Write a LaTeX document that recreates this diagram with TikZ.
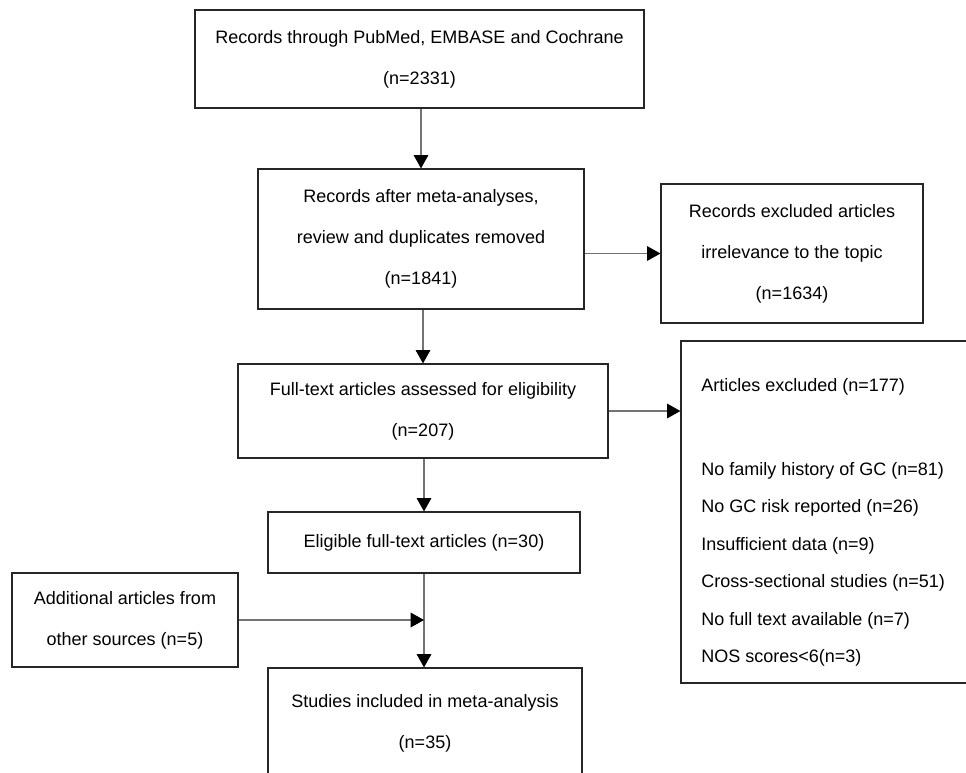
\documentclass[tikz,border=0pt]{standalone}
\usepackage{fontspec}
\setmainfont{Liberation Sans}
\usetikzlibrary{arrows.meta}
\begin{document}
\begin{tikzpicture}[x=0.75pt,y=-0.75pt,
  box/.style={draw=black!85,line width=0.9pt,rectangle,inner sep=0pt,align=center,
    font=\fontsize{13.5}{30.75}\selectfont},
  conn/.style={draw=black!55,line width=0.8pt,-{Triangle[length=10pt,width=11pt,black]}}]
\clip (0,0) rectangle (966,772);
\fill[white] (0,0) rectangle (966,772);

\node[box,minimum width=336.75pt,minimum height=73.5pt] (box1) at (419.5,59)
  {Records through PubMed, EMBASE and Cochrane\\(n=2331)};
\node[box,minimum width=244.5pt,minimum height=105pt] (box2) at (421,239)
  {Records after meta-analyses,\\review and duplicates removed\\(n=1841)};
\node[box,minimum width=196.5pt,minimum height=104.25pt] (box3) at (792,253.5)
  {Records excluded articles\\irrelevance to the topic\\(n=1634)};
\node[box,minimum width=277.5pt,minimum height=70.5pt] (box4) at (423,411)
  {Full-text articles assessed for eligibility\\(n=207)};
\node[box,minimum width=231.75pt,minimum height=256.5pt] (box5) at (835.5,512) {};
\node[anchor=north west,align=left,inner sep=0pt,
  font=\fontsize{13.5}{28.125}\selectfont] (exclist) at (701,378)
  {Articles excluded (n=177)\\[34.875pt]
   No family history of GC (n=81)\\
   No GC risk reported (n=26)\\
   Insufficient data (n=9)\\
   Cross-sectional studies (n=51)\\
   No full text available (n=7)\\
   NOS scores<6(n=3)};
\node[box,minimum width=234pt,minimum height=45.75pt] (box6) at (424,542.5)
  {Eligible full-text articles (n=30)};
\node[box,minimum width=169.5pt,minimum height=70.5pt] (box7) at (125,620)
  {Additional articles from\\other sources (n=5)};
\node[box,minimum width=235.5pt,minimum height=82.5pt] (box8) at (425,723)
  {Studies included in meta-analysis\\(n=35)};

\draw[conn] (box2.north |- box1.south) -- (box2.north);
\draw[conn] (box3.west -| box2.east) -- (box3.west);
\draw[conn] (box4.north |- box2.south) -- (box4.north);
\draw[conn] (box4.east) -- (box4.east -| box5.west);
\draw[conn] (box6.north |- box4.south) -- (box6.north);
\draw[conn] (box6.south) -- (box6.south |- box8.north);
\draw[conn] (box7.east) -- (box7.east -| box6.south);
\end{tikzpicture}
\end{document}
